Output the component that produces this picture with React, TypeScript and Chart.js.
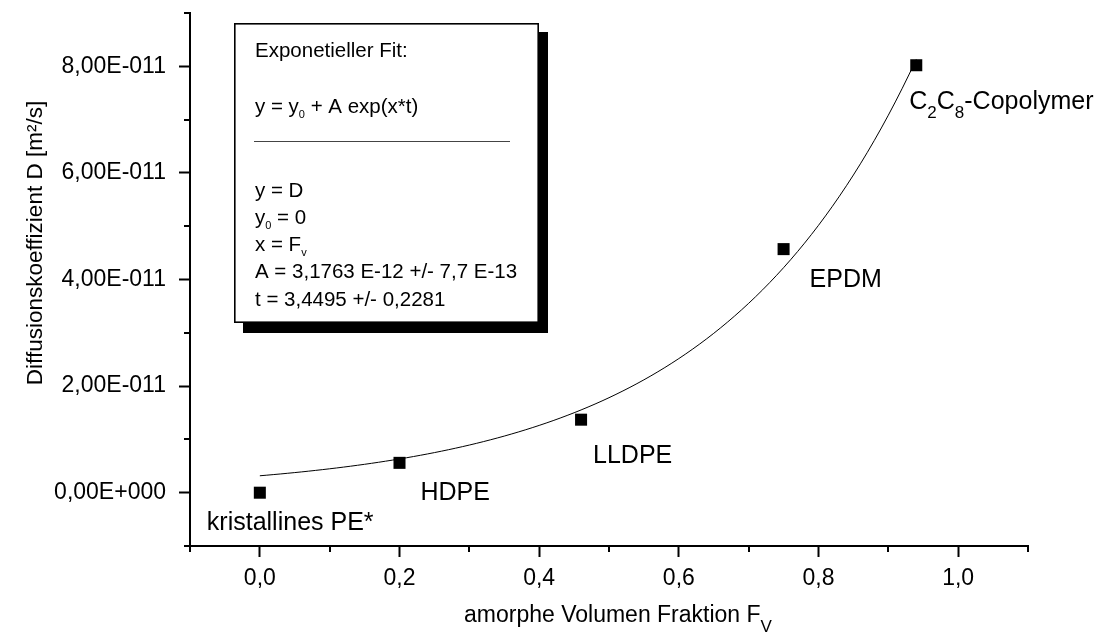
import { useEffect, useRef } from 'react';
import { Chart, registerables } from 'chart.js';

Chart.register(...registerables);

// Measured samples: amorphous volume fraction vs. diffusion coefficient
const SAMPLE_NAMES = ['kristallines PE*', 'HDPE', 'LLDPE', 'EPDM', 'C_2C_8-Copolymer'];
const VOLUME_FRACTION = [0, 0.2, 0.46, 0.75, 0.94];
const DIFFUSION = [0, 5.6e-12, 1.37e-11, 4.57e-11, 8.02e-11];

// Exponential fit parameters (y = y0 + A * exp(x * t), y0 = 0)
const FIT_Y0 = 0;
const FIT_A = 3.1763e-12;
const FIT_T = 3.4495;

// Axis ticks
const X_TICKS = [0, 0.2, 0.4, 0.6, 0.8, 1.0];
const X_TICK_LABELS = ['0,0', '0,2', '0,4', '0,6', '0,8', '1,0'];
const X_MINOR_TICKS = [-0.1, 0.1, 0.3, 0.5, 0.7, 0.9, 1.1];
const Y_TICKS = [0, 2e-11, 4e-11, 6e-11, 8e-11];
const Y_TICK_LABELS = ['0,00E+000', '2,00E-011', '4,00E-011', '6,00E-011', '8,00E-011'];
const Y_MINOR_TICKS = [-1e-11, 1e-11, 3e-11, 5e-11, 7e-11, 9e-11];

// Text block of the fit box ('_' marks a one-character subscript)
const FIT_BOX_LINES = [
  'Exponetieller Fit:',
  'y = y_0 + A exp(x*t)',
  'y = D',
  'y_0 = 0',
  'x = F_v',
  'A = 3,1763 E-12 +/- 7,7 E-13',
  't = 3,4495 +/- 0,2281',
];

const X_TITLE = 'amorphe Volumen Fraktion F_V';
const Y_TITLE = 'Diffusionskoeffizient D [m²/s]';

// Styling / placement (pixels)
const FONT = '"Liberation Sans", Arial, Helvetica, sans-serif';
const LABEL_OFFSETS: [number, number][] = [[-53, 37], [21, 37], [12, 43], [26, 38], [-7, 44]];
const FIT_BOX_BASELINES = [34, 90, 174, 201, 228, 255, 283];
const FIT_BOX_SEPARATOR = 118;

function splitRich(text: string) {
  const parts: { t: string; sub: boolean }[] = [];
  let buf = '';
  for (let i = 0; i < text.length; i++) {
    if (text[i] === '_' && i + 1 < text.length) {
      if (buf) parts.push({ t: buf, sub: false });
      buf = '';
      parts.push({ t: text[i + 1], sub: true });
      i++;
    } else {
      buf += text[i];
    }
  }
  if (buf) parts.push({ t: buf, sub: false });
  return parts;
}

function drawRich(
  ctx: CanvasRenderingContext2D,
  text: string,
  x: number,
  y: number,
  size: number,
  subSize: number,
  subDy: number
) {
  let cx = x;
  ctx.textAlign = 'left';
  ctx.textBaseline = 'alphabetic';
  for (const p of splitRich(text)) {
    ctx.font = `${p.sub ? subSize : size}px ${FONT}`;
    ctx.fillText(p.t, cx, y + (p.sub ? subDy : 0));
    cx += ctx.measureText(p.t).width;
  }
}

const decorations = {
  id: 'decorations',
  afterDraw(chart: any) {
    const ctx: CanvasRenderingContext2D = chart.ctx;
    const xs = chart.scales.x;
    const ys = chart.scales.y;
    const area = chart.chartArea;
    ctx.save();
    ctx.fillStyle = '#000';
    ctx.strokeStyle = '#000';

    // minor ticks
    ctx.lineWidth = 2;
    ctx.beginPath();
    for (const v of Y_MINOR_TICKS) {
      const py = Math.round(ys.getPixelForValue(v));
      ctx.moveTo(area.left - 6, py);
      ctx.lineTo(area.left, py);
    }
    for (const v of X_MINOR_TICKS) {
      const px = Math.round(xs.getPixelForValue(v));
      ctx.moveTo(px, area.bottom);
      ctx.lineTo(px, area.bottom + 6);
    }
    ctx.stroke();

    // sample labels
    SAMPLE_NAMES.forEach((name, i) => {
      const px = xs.getPixelForValue(VOLUME_FRACTION[i]);
      const py = ys.getPixelForValue(DIFFUSION[i]);
      const [dx, dy] = LABEL_OFFSETS[i];
      drawRich(ctx, name, px + dx, py + dy, 25, 17, 9);
    });

    // fit box with drop shadow
    const bx = area.left + 44;
    const by = area.top + 10;
    const bw = 305;
    const bh = 300;
    ctx.fillStyle = '#000';
    ctx.fillRect(bx + 9, by + 9, bw, bh + 1);
    ctx.fillStyle = '#fff';
    ctx.fillRect(bx, by, bw, bh);
    ctx.lineWidth = 1.6;
    ctx.strokeRect(bx + 0.8, by + 0.8, bw - 1.6, bh - 1.6);
    ctx.fillStyle = '#000';
    FIT_BOX_LINES.forEach((line, i) => {
      drawRich(ctx, line, bx + 21, by + FIT_BOX_BASELINES[i], 20.5, 11, 5);
    });
    ctx.strokeStyle = '#444';
    ctx.lineWidth = 1;
    ctx.beginPath();
    ctx.moveTo(bx + 20, by + FIT_BOX_SEPARATOR + 0.5);
    ctx.lineTo(bx + 276, by + FIT_BOX_SEPARATOR + 0.5);
    ctx.stroke();

    // axis titles
    ctx.fillStyle = '#000';
    drawRich(ctx, X_TITLE, 464, 622, 23, 17, 10);
    ctx.save();
    ctx.translate(42, 243);
    ctx.rotate(-Math.PI / 2);
    ctx.font = `22.5px ${FONT}`;
    ctx.textAlign = 'center';
    ctx.textBaseline = 'alphabetic';
    ctx.fillText(Y_TITLE, 0, 0);
    ctx.restore();

    ctx.restore();
  },
};

export default function App() {
  const canvasRef = useRef<HTMLCanvasElement | null>(null);

  useEffect(() => {
    const canvas = canvasRef.current;
    if (!canvas) return;

    const points = VOLUME_FRACTION.map((x, i) => ({ x, y: DIFFUSION[i] }));
    const xEnd = VOLUME_FRACTION[VOLUME_FRACTION.length - 1];
    const fitPoints: { x: number; y: number }[] = [];
    for (let k = 0; k <= 94; k++) {
      const x = (xEnd * k) / 94;
      fitPoints.push({ x, y: FIT_Y0 + FIT_A * Math.exp(x * FIT_T) });
    }

    const tickFont = { family: FONT, size: 23 };

    const chart = new Chart(canvas, {
      type: 'scatter',
      data: {
        datasets: [
          {
            type: 'line',
            label: 'Exponetieller Fit',
            data: fitPoints,
            borderColor: '#000',
            borderWidth: 1,
            pointRadius: 0,
            fill: false,
            tension: 0,
            order: 2,
          } as any,
          {
            type: 'scatter',
            label: 'D',
            data: points,
            pointStyle: 'rect',
            pointRadius: 8.5,
            pointHoverRadius: 8.5,
            backgroundColor: '#000',
            borderColor: '#000',
            borderWidth: 0,
            order: 1,
          } as any,
        ],
      },
      options: {
        animation: false,
        responsive: false,
        devicePixelRatio: 1,
        events: [],
        layout: { padding: { left: 0, right: 76, top: 13, bottom: 0 } },
        plugins: { legend: { display: false }, tooltip: { enabled: false } },
        scales: {
          x: {
            type: 'linear',
            position: 'bottom',
            min: -0.1,
            max: 1.1,
            afterFit: (s: any) => {
              s.height = 87;
              s.paddingLeft = 0;
              s.paddingRight = 0;
            },
            afterBuildTicks: (s: any) => {
              s.ticks = X_TICKS.map((v) => ({ value: v }));
            },
            grid: {
              drawOnChartArea: false,
              drawTicks: true,
              tickLength: 11,
              tickWidth: 2,
              tickColor: '#000',
            },
            border: { display: true, color: '#000', width: 2 },
            ticks: {
              color: '#000',
              font: tickFont,
              padding: 8,
              maxRotation: 0,
              autoSkip: false,
              callback: (_v: any, i: number) => X_TICK_LABELS[i],
            },
          },
          y: {
            type: 'linear',
            position: 'left',
            min: -1e-11,
            max: 9e-11,
            afterFit: (s: any) => {
              s.width = 190;
              s.paddingTop = 0;
              s.paddingBottom = 0;
            },
            afterBuildTicks: (s: any) => {
              s.ticks = Y_TICKS.map((v) => ({ value: v }));
            },
            grid: {
              drawOnChartArea: false,
              drawTicks: true,
              tickLength: 11,
              tickWidth: 2,
              tickColor: '#000',
            },
            border: { display: true, color: '#000', width: 2 },
            ticks: {
              color: '#000',
              font: tickFont,
              padding: 13,
              autoSkip: false,
              callback: (_v: any, i: number) => Y_TICK_LABELS[i],
            },
          },
        },
      } as any,
      plugins: [decorations],
    });

    return () => chart.destroy();
  }, []);

  return (
    <div style={{ position: 'fixed', left: 0, top: 0, width: 1104, height: 633, background: '#fff' }}>
      <canvas ref={canvasRef} width={1104} height={633} style={{ display: 'block' }} />
    </div>
  );
}
